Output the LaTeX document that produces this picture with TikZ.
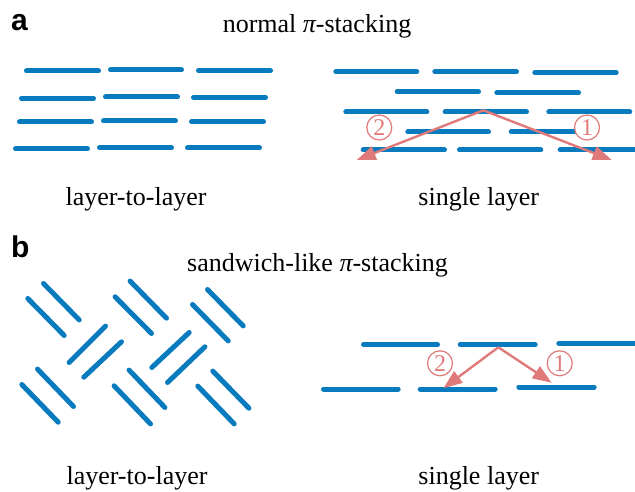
\documentclass[tikz,border=0pt]{standalone}
\usepackage{fontspec}
\setmainfont{Liberation Serif}
\newfontfamily\panelfont{Liberation Sans}
\usetikzlibrary{arrows.meta}
\definecolor{segblue}{RGB}{8,122,190}
\definecolor{salmon}{RGB}{224,122,122}
\begin{document}
\begin{tikzpicture}[x=1pt,y=-1pt,
  seg/.style={draw=segblue,line width=5pt,line cap=round},
  pathway/.style={draw=salmon,line width=2.4pt,-{Triangle[length=19pt,width=14pt]},shorten >=0pt},
  circnum/.style={circle,draw=salmon,line width=1.2pt,fill=white,text=salmon,minimum size=25pt,inner sep=0pt,font=\fontsize{24}{24}\selectfont},
  lbl/.style={anchor=base,inner sep=0pt,font=\fontsize{26}{30}\selectfont},
  panel/.style={anchor=base west,inner sep=0pt,font=\panelfont\bfseries\fontsize{30}{32}\selectfont}]
\useasboundingbox (0,0) rectangle (635,492);
% ---------- panel a, layer-to-layer ----------
\foreach \xa/\xb/\yy in {
  26.5/98.5/71, 110.5/181.5/70, 198.5/270.5/70.7,
  21.5/93.5/98.3, 105.5/177.5/97, 193.5/265.5/97.3,
  19.5/91.5/122, 103.5/175.5/121, 191.5/263.5/121.7,
  15.5/87.5/148.7, 99.5/171.5/147.7, 187.5/259.5/148}
  \draw[seg] (\xa,\yy) -- (\xb,\yy);
% ---------- panel a, single layer ----------
\foreach \xa/\xb/\yy in {
  335.8/416.8/71.7, 434.8/516.5/71.7, 534.8/616.2/72.7,
  397.2/478.5/91.7, 496.8/578.5/92.7,
  345.8/426.8/112, 445.2/526.5/112, 548.8/629.8/112,
  407.8/488.5/132, 511.2/576/132,
  363.2/444.5/150, 459.5/540.8/150, 560.2/640/150}
  \draw[seg] (\xa,\yy) -- (\xb,\yy);
\coordinate (aS) at (483.3,110.3);
\coordinate (aL) at (356.7,160);
\coordinate (aR) at (611.7,160);
\draw[pathway] (aS) -- (aL);
\draw[pathway] (aS) -- (aR);
\node[circnum] (a2) at (379.3,127.5) {2};
\node[circnum] (a1) at (587,127.5) {1};
% ---------- panel b, layer-to-layer ----------
\foreach \xa/\ya/\xb/\yb in {
  43.5/283.5/79.2/319.9,  27.8/298.5/64.2/335.5,
  105.5/326.1/69.1/362.5, 121.5/341.8/83.8/377.2,
  130.1/281.1/166.5/318.2, 115.1/296.8/151.5/333.5,
  189.2/332.5/151.8/367.5, 204.9/346.8/167.5/382.5,
  207.5/289.5/243.2/325.9, 192.5/304.5/228.2/340.9,
  37.5/369.1/73.5/406.5, 21.8/384.5/58.2/422.2,
  129.1/370.1/164.9/407.5, 114.1/385.8/150.5/423.9,
  212.8/371.1/248.9/408.2, 197.8/386.1/234.2/423.9}
  \draw[seg] (\xa,\ya) -- (\xb,\yb);
% ---------- panel b, single layer ----------
\foreach \xa/\xb/\yy in {
  363.5/437.5/344.7, 460.2/535.2/344.7, 558.8/640/343.3,
  323.5/398.2/389, 420.2/495.2/389, 518.8/594.2/387}
  \draw[seg] (\xa,\yy) -- (\xb,\yy);
\coordinate (bS) at (498.3,347.3);
\coordinate (bL) at (443.3,388.3);
\coordinate (bR) at (551.7,382.7);
\draw[pathway] (bS) -- (bL);
\draw[pathway] (bS) -- (bR);
\node[circnum] (b2) at (440,363.3) {2};
\node[circnum] (b1) at (559.7,363.3) {1};
% ---------- texts ----------
\node[panel] (pa) at (11,30.5) {a};
\node[panel] (pb) at (11,258) {b};
\node[lbl] (ta) at (317,33) {normal {\itshape π}-stacking};
\node[lbl] (tb) at (317.5,271) {sandwich-like {\itshape π}-stacking};
\node[lbl] (l1) at (136,205) {layer-to-layer};
\node[lbl] (s1) at (478.7,205) {single layer};
\node[lbl] (l2) at (137,484) {layer-to-layer};
\node[lbl] (s2) at (478.7,484) {single layer};
\end{tikzpicture}
\end{document}
